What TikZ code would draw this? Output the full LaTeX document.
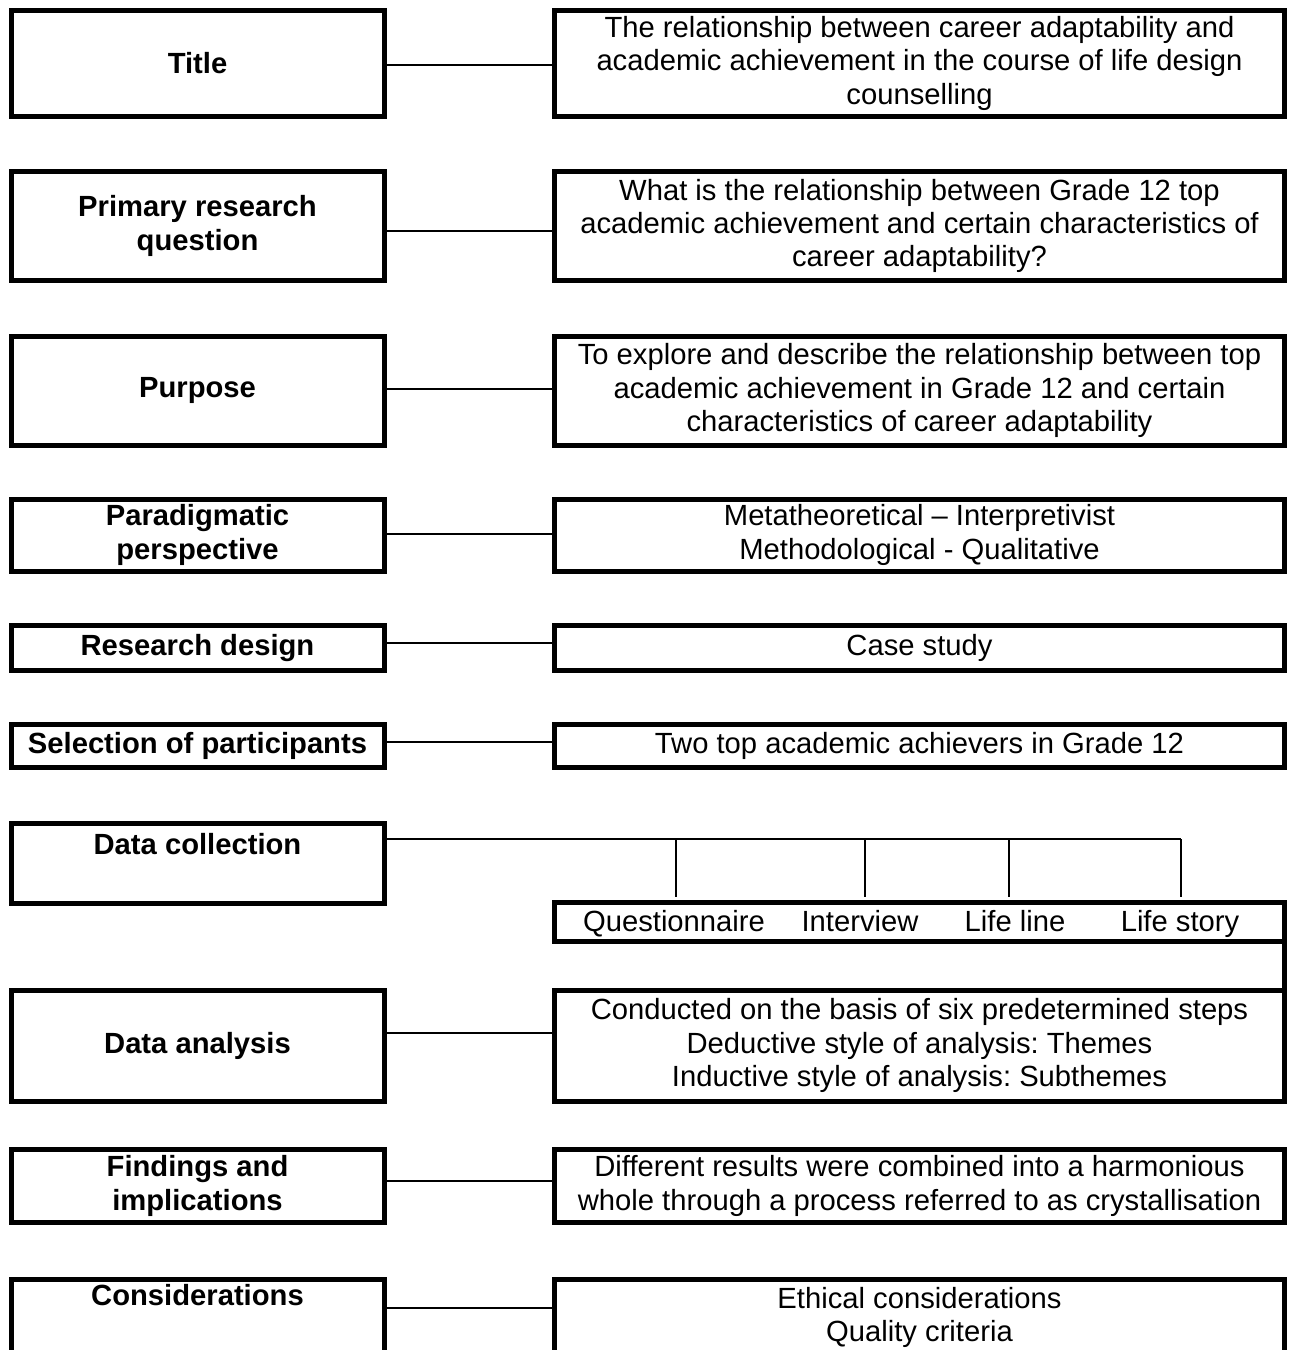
\documentclass[tikz,border=0pt]{standalone}
\usepackage{fontspec}
\setmainfont{Liberation Sans}
\begin{document}
\frenchspacing
\begin{tikzpicture}[x=0.5pt,y=-0.5pt,
  fnt/.style={font=\fontsize{14.6pt}{16.65pt}\selectfont},
  box/.style={draw,line width=2.5pt,inner sep=0pt,outer sep=0pt,align=center,fnt},
  lbox/.style={box,minimum width=186.5pt,font=\fontsize{14.6pt}{16.65pt}\selectfont\bfseries},
  rbox/.style={box,minimum width=365pt},
  txt/.style={inner sep=0pt,outer sep=0pt,align=center,fnt},
  btxt/.style={txt,font=\fontsize{14.6pt}{16.65pt}\selectfont\bfseries},
  conn/.style={line width=0.65pt},
  thick edge/.style={line width=2.5pt}]
\clip (0,0) rectangle (1289,1350);
% Row 1
\node[lbox,minimum height=53.25pt] (L1) at (197.5,63.25) {Title};
\node[rbox,minimum height=53.25pt] (R1) at (919.5,63.25) {The relationship between career adaptability and\\academic achievement in the course of life design\\counselling};
\draw[conn] (L1.east |- 0,65) -- (R1.west |- 0,65);
% Row 2
\node[lbox,minimum height=54.5pt] (L2) at (197.5,226) {Primary research\\question};
\node[rbox,minimum height=54.5pt] (R2) at (919.5,226) {What is the relationship between Grade 12 top\\academic achievement and certain characteristics of\\career adaptability?};
\draw[conn] (L2.east |- 0,231) -- (R2.west |- 0,231);
% Row 3
\node[lbox,minimum height=54.5pt] (L3) at (197.5,390.5) {Purpose};
\node[rbox,minimum height=54.5pt] (R3) at (919.5,390.5) {To explore and describe the relationship between top\\academic achievement in Grade 12 and certain\\characteristics of career adaptability};
\draw[conn] (L3.east |- 0,389) -- (R3.west |- 0,389);
% Row 4
\node[lbox,minimum height=36pt] (L4) at (197.5,535) {Paradigmatic\\perspective};
\node[rbox,minimum height=36pt] (R4) at (919.5,535) {Metatheoretical – Interpretivist\\Methodological - Qualitative};
\draw[conn] (L4.east |- 0,534) -- (R4.west |- 0,534);
% Row 5
\node[lbox,minimum height=22.5pt] (L5) at (197.5,648) {Research design};
\node[rbox,minimum height=22.5pt] (R5) at (919.5,648) {Case study};
\draw[conn] (L5.east |- 0,643) -- (R5.west |- 0,643);
% Row 6
\node[lbox,minimum height=21.5pt] (L6) at (197.5,746) {Selection of participants};
\node[rbox,minimum height=21.5pt] (R6) at (919.5,746) {Two top academic achievers in Grade 12};
\draw[conn] (L6.east |- 0,742) -- (R6.west |- 0,742);
% Row 7
\node[lbox,minimum height=40pt] (L7) at (197.5,863) {};
\node[btxt] (L7t) at (197.5,844) {Data collection};
\node[rbox,minimum height=19.5pt] (items) at (919.5,921.5) {};
\node[txt,anchor=base] (q1) at (674,931) {Questionnaire};
\node[txt,anchor=base] (q2) at (860,931) {Interview};
\node[txt,anchor=base] (q3) at (1015,931) {Life line};
\node[txt,anchor=base] (q4) at (1180,931) {Life story};
\coordinate (d1) at (676,839);
\coordinate (d2) at (865,839);
\coordinate (d3) at (1009,839);
\coordinate (d4) at (1181,839);
\draw[conn] (L7.east |- 0,839) -- (d4);
\draw[conn] (d1) -- ([yshift=2.5pt]d1 |- items.north);
\draw[conn] (d2) -- ([yshift=2.5pt]d2 |- items.north);
\draw[conn] (d3) -- ([yshift=2.5pt]d3 |- items.north);
\draw[conn] (d4) -- ([yshift=2.5pt]d4 |- items.north);
% Row 8
\node[lbox,minimum height=55.5pt] (L8) at (197.5,1045.5) {Data analysis};
\node[rbox,minimum height=55.5pt] (R8) at (919.5,1045.5) {Conducted on the basis of six predetermined steps\\Deductive style of analysis: Themes\\Inductive style of analysis: Subthemes};
\draw[conn] (L8.east |- 0,1033) -- (R8.west |- 0,1033);
\draw[thick edge] (items.south east) -- (R8.north east);
% Row 9
\node[lbox,minimum height=36.75pt] (L9) at (197.5,1186) {Findings and\\implications};
\node[rbox,minimum height=36.75pt] (R9) at (919.5,1186) {Different results were combined into a harmonious\\whole through a process referred to as crystallisation};
\draw[conn] (L9.east |- 0,1181) -- (R9.west |- 0,1181);
% Row 10
\node[lbox,minimum height=45.5pt] (L10) at (197.5,1324.5) {};
\node[btxt,anchor=north] (L10t) at (197.5,1284) {Considerations};
\node[rbox,minimum height=45.5pt] (R10) at (919.5,1324.5) {};
\node[txt,anchor=north] (R10t) at (919.5,1287) {Ethical considerations\\Quality criteria};
\draw[conn] (L10.east |- 0,1308) -- (R10.west |- 0,1308);
\end{tikzpicture}
\end{document}
